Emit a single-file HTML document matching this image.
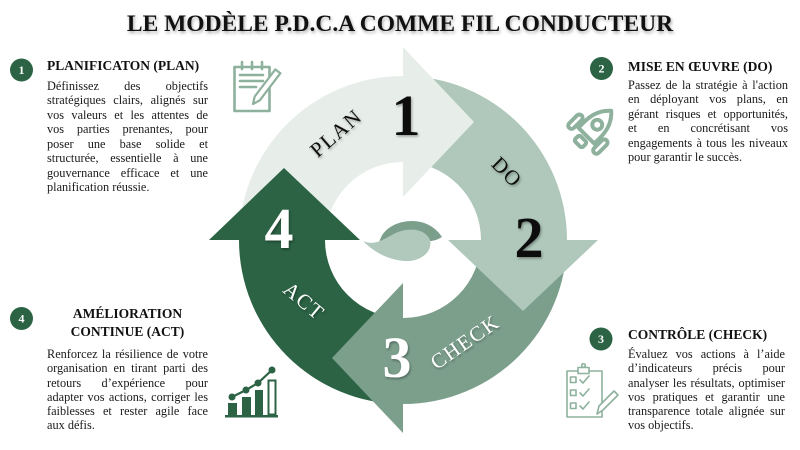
<!DOCTYPE html>
<html>
<head>
<meta charset="utf-8">
<style>
  html,body{margin:0;padding:0;background:#fff;}
  body{width:800px;height:450px;position:relative;overflow:hidden;font-family:"Liberation Serif",serif;}
  .title{position:absolute;left:0;top:10px;width:800px;text-align:center;font:bold 23.5px/28px "Liberation Serif",serif;color:#111;text-shadow:1px 2px 3px rgba(0,0,0,.35);white-space:nowrap;}
  .h{position:absolute;font:bold 13.5px/16px "Liberation Serif",serif;color:#111;white-space:nowrap;}
  .b{position:absolute;font-size:12.3px;color:#1a1a1a;font-family:"Liberation Serif",serif;}
  .b div{white-space:normal;}
  .j{text-align:justify;text-align-last:justify;}
</style>
</head>
<body>
<svg width="800" height="450" style="position:absolute;left:0;top:0">
  <defs>
    <filter id="sh" x="-20%" y="-20%" width="140%" height="140%">
      <feDropShadow dx="1" dy="1.5" stdDeviation="1.2" flood-color="#000" flood-opacity="0.35"/>
    </filter>
  </defs>
  <!-- rings -->
  <path d="M239,240 A164,164 0 0 1 403,76 L403,162 A78,78 0 0 0 325,240 Z" fill="#e7eee9"/>
  <path d="M403,76 A164,164 0 0 1 567,240 L481,240 A78,78 0 0 0 403,162 Z" fill="#afc8bb"/>
  <path d="M567,240 A164,164 0 0 1 403,404 L403,318 A78,78 0 0 0 481,240 Z" fill="#7c9f8c"/>
  <path d="M403,404 A164,164 0 0 1 239,240 L325,240 A78,78 0 0 0 403,318 Z" fill="#2b6344"/>
  <!-- arrowheads -->
  <polygon points="403,47 474,122 403,197" fill="#e7eee9"/>
  <polygon points="448,240 598,240 523,311" fill="#afc8bb"/>
  <polygon points="403,283 403,433 332,358" fill="#7c9f8c"/>
  <polygon points="209,240 360,240 284,168" fill="#2b6344"/>
  <!-- swirl -->
  <path d="M379,244 C381,229 397,221 412,221 C426,221 436,228 442,237 C437,240 433,241 430,241 L400,241 Z" fill="#7c9f8c"/>
  <path d="M363,241 C376,247 386,237 398,232 C412,227 426,230 430,240 C433,252 420,262 405,261 C388,260 374,252 363,241 Z" fill="#b0c9bc"/>
  <!-- big numbers -->
  <g font-family="Liberation Serif, serif" font-weight="bold" font-size="58" text-anchor="middle" filter="url(#sh)">
    <text x="406" y="135" fill="#111">1</text>
    <text x="529" y="257" fill="#111">2</text>
    <text x="397" y="377" fill="#fff">3</text>
    <text x="279" y="248" fill="#fff">4</text>
  </g>
  <!-- labels -->
  <g font-family="Liberation Serif, serif" font-size="21" text-anchor="middle" letter-spacing="1.5" filter="url(#sh)">
    <text x="336" y="140" fill="#111" transform="rotate(-41 336 133)">PLAN</text>
    <text x="507" y="179" fill="#111" transform="rotate(45 507 172)">DO</text>
    <text x="465" y="349" fill="#fff" transform="rotate(-35 465 342)">CHECK</text>
    <text x="304" y="308" fill="#fff" transform="rotate(40 304 301)">ACT</text>
  </g>
  <!-- badges -->
  <g fill="#2b6344">
    <circle cx="21.5" cy="70" r="11.5"/>
    <circle cx="601.5" cy="68.5" r="11.5"/>
    <circle cx="601" cy="339" r="11.5"/>
    <circle cx="21.5" cy="318.5" r="11.5"/>
  </g>
  <g font-family="Liberation Serif, serif" font-size="12" font-weight="bold" fill="#fff" text-anchor="middle">
    <text x="21.5" y="74">1</text>
    <text x="601.5" y="72.5">2</text>
    <text x="601" y="343">3</text>
    <text x="21.5" y="322.5">4</text>
  </g>
  <!-- notepad icon -->
  <g stroke="#8eb19d" stroke-width="2.6" fill="none" stroke-linecap="round" stroke-linejoin="round">
    <rect x="234.5" y="67" width="35" height="44"/>
    <line x1="242" y1="62" x2="242" y2="69"/>
    <line x1="252" y1="62" x2="252" y2="69"/>
    <line x1="262" y1="62" x2="262" y2="69"/>
    <line x1="240" y1="75" x2="263" y2="75"/>
    <line x1="240" y1="81" x2="263" y2="81"/>
    <line x1="240" y1="87" x2="256" y2="87"/>
    <polygon points="253,104 259.8,100.3 280.4,73.2 275.3,69.4 254.7,96.5" fill="#fff" stroke-width="2.2"/>
  </g>
  <!-- rocket icon -->
  <g transform="translate(591,131) rotate(45) scale(1.1)" stroke="#8eb19d" stroke-width="3.6" fill="none" stroke-linejoin="round" stroke-linecap="round">
    <path d="M0,-26 C9,-18 11,-8 10,6 L-10,6 C-11,-8 -9,-18 0,-26 Z"/>
    <circle cx="0" cy="-8" r="4.5"/>
    <rect x="-19" y="-4" width="6" height="16" rx="3"/>
    <rect x="13" y="-4" width="6" height="16" rx="3"/>
    <rect x="-5" y="10" width="10" height="7" rx="2"/>
  </g>
  <!-- clipboard icon -->
  <g stroke="#8eb19d" stroke-width="1.6" fill="none" stroke-linejoin="round" stroke-linecap="round">
    <rect x="567" y="371" width="35" height="46"/>
    <rect x="578" y="367.5" width="11" height="6" fill="#fff"/>
    <circle cx="583.5" cy="365.5" r="1.8"/>
    <rect x="570.5" y="377" width="5.5" height="5.5"/>
    <rect x="570.5" y="390" width="5.5" height="5.5"/>
    <rect x="570.5" y="403" width="5.5" height="5.5"/>
    <polyline points="580,380 583,383 589,376"/>
    <polyline points="580,393 583,396 589,389"/>
    <polyline points="580,406 583,409 589,402"/>
    <polygon points="597,414 599,406 614,391 618,395 603,410" fill="#fff"/>
  </g>
  <!-- bar chart icon -->
  <g fill="#2b6344">
    <rect x="225" y="415" width="53" height="2.5"/>
    <rect x="228" y="403" width="9" height="12"/>
    <rect x="242" y="397" width="9" height="18"/>
    <rect x="255" y="390" width="8" height="25"/>
    <rect x="268.5" y="380.5" width="7" height="34" fill="none" stroke="#2b6344" stroke-width="2"/>
    <polyline points="232,397 246,390 258,383 272,370" fill="none" stroke="#2b6344" stroke-width="2.2"/>
    <circle cx="232" cy="397" r="3.5"/>
    <circle cx="246" cy="390" r="3.5"/>
    <circle cx="258" cy="383" r="3.5"/>
    <circle cx="272" cy="370" r="3.5"/>
  </g>
</svg>

<div class="title">LE MODÈLE P.D.C.A COMME FIL CONDUCTEUR</div>

<!-- Block 1 -->
<div class="h" style="left:47px;top:58px;">PLANIFICATON (PLAN)</div>
<div class="b" style="left:47px;top:78.6px;width:161px;line-height:14.5px;">
  <div class="j">Définissez des objectifs</div>
  <div class="j">stratégiques clairs, alignés sur</div>
  <div class="j">vos valeurs et les attentes de</div>
  <div class="j">vos parties prenantes, pour</div>
  <div class="j">poser une base solide et</div>
  <div class="j">structurée, essentielle à une</div>
  <div class="j">gouvernance efficace et une</div>
  <div>planification réussie.</div>
</div>

<!-- Block 2 -->
<div class="h" style="left:628px;top:59px;">MISE EN ŒUVRE (DO)</div>
<div class="b" style="left:628px;top:77.9px;width:160px;line-height:14.4px;">
  <div class="j">Passez de la stratégie à l'action</div>
  <div class="j">en déployant vos plans, en</div>
  <div class="j">gérant risques et opportunités,</div>
  <div class="j">et en concrétisant vos</div>
  <div class="j">engagements à tous les niveaux</div>
  <div>pour garantir le succès.</div>
</div>

<!-- Block 3 -->
<div class="h" style="left:628px;top:326.7px;">CONTRÔLE (CHECK)</div>
<div class="b" style="left:628px;top:347.1px;width:157px;line-height:14.2px;">
  <div class="j">Évaluez vos actions à l’aide</div>
  <div class="j">d’indicateurs précis pour</div>
  <div class="j">analyser les résultats, optimiser</div>
  <div class="j">vos pratiques et garantir une</div>
  <div class="j">transparence totale alignée sur</div>
  <div>vos objectifs.</div>
</div>

<!-- Block 4 -->
<div class="h" style="left:47px;top:304.5px;width:161px;text-align:center;line-height:18.4px;">AMÉLIORATION<br>CONTINUE (ACT)</div>
<div class="b" style="left:47px;top:347px;width:161px;line-height:14.3px;">
  <div class="j">Renforcez la résilience de votre</div>
  <div class="j">organisation en tirant parti des</div>
  <div class="j">retours d’expérience pour</div>
  <div class="j">adapter vos actions, corriger les</div>
  <div class="j">faiblesses et rester agile face</div>
  <div>aux défis.</div>
</div>
</body>
</html>
